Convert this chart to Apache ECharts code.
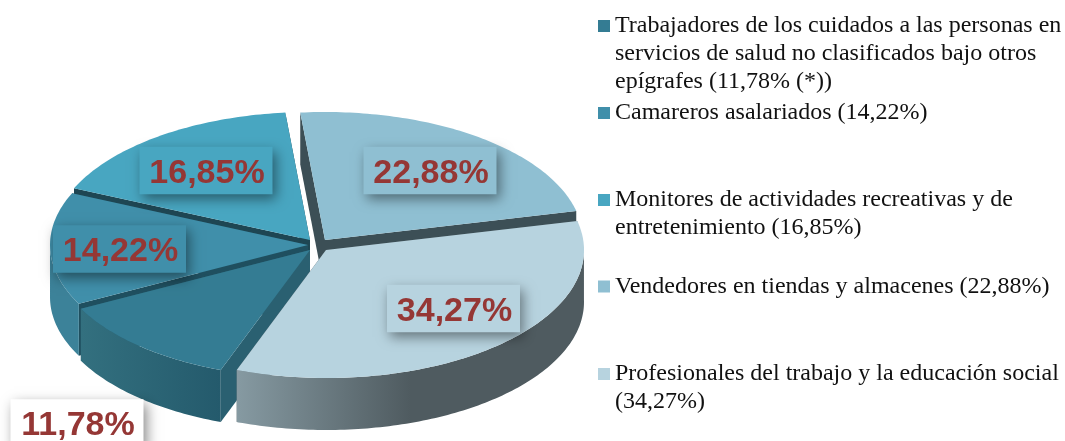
<!DOCTYPE html>
<html>
<head>
<meta charset="utf-8">
<style>html,body{margin:0;padding:0;background:#fff}#c{width:1065px;height:441px}</style>
<script src="https://cdn.jsdelivr.net/npm/echarts@6/dist/echarts.min.js"></script>
</head>
<body>
<div id="c"></div>
<script>
// Data, in clockwise order starting at the top of the pie
const categories = [
  'Vendedores en tiendas y almacenes',
  'Profesionales del trabajo y la educación social',
  'Trabajadores de los cuidados a las personas en servicios de salud no clasificados bajo otros epígrafes',
  'Camareros asalariados',
  'Monitores de actividades recreativas y de entretenimiento'
];
const shares = [22.88, 34.27, 11.78, 14.22, 16.85];
const legendBreaks = [
  ['Vendedores en tiendas y almacenes (22,88%)'],
  ['Profesionales del trabajo y la educación social', '(34,27%)'],
  ['Trabajadores de los cuidados a las personas en', 'servicios de salud no clasificados bajo otros', 'epígrafes (11,78% (*))'],
  ['Camareros asalariados (14,22%)'],
  ['Monitores de actividades recreativas y de', 'entretenimiento (16,85%)']
];

// Styling and layout
const topColors = ['#8FBFD2', '#B7D3DF', '#347C93', '#408FAA', '#48A6C1'];
const cutColors = ['#3C4F56', '#4F5B60', '#2A6071', '#1F4F5F', '#1E4653'];
const wallFrom = ['#4F5B60', '#869AA2', '#33707F', '#3C8299', '#3C8299'];
const wallTo = ['#4F5B60', '#4F5B60', '#245A6C', '#3C8299', '#3C8299'];
const apexX = [325, 326, 310, 308, 310];
const apexY = [240, 250, 250, 245, 240];
const labelCenterX = [430, 453.5, 77, 119.5, 206];
const labelCenterY = [170.5, 308.5, 423, 249, 170.5];
const labelFill = ['#8FBFD2', '#B7D3DF', '#FFFFFF', '#408FAA', '#48A6C1'];
const legendCenterY = [284.5, 372, 24, 111, 198];
const drawOrder = [0, 4, 3, 2, 1];
const startDeg = -5.5, RX = 258, RY = 128, DEPTH = 52;
const LINE = 28;

const total = shares.reduce((a, b) => a + b, 0);
function sliceAngles(i) {
  let before = 0;
  for (let k = 0; k < i; k++) before += shares[k];
  return [startDeg + before / total * 360, startDeg + (before + shares[i]) / total * 360];
}
function rimPoint(i, deg, dy) {
  const r = deg * Math.PI / 180;
  return [apexX[i] + RX * Math.sin(r), apexY[i] - RY * Math.cos(r) + (dy || 0)];
}
function renderSlice(i) {
  const [a0, a1] = sliceAngles(i);
  const arc = [];
  for (let d = a0; d < a1; d += 1) arc.push(d);
  arc.push(a1);
  const top = [[apexX[i], apexY[i]]].concat(arc.map(d => rimPoint(i, d)));
  const cut = deg => [[apexX[i], apexY[i]], rimPoint(i, deg), rimPoint(i, deg, DEPTH), [apexX[i], apexY[i] + DEPTH]];
  const front = arc.filter(d => Math.cos(d * Math.PI / 180) < 0.02);
  const children = [
    { type: 'polygon', shape: { points: cut(a0) }, style: { fill: cutColors[i] }, silent: true },
    { type: 'polygon', shape: { points: cut(a1) }, style: { fill: cutColors[i] }, silent: true }
  ];
  if (front.length > 1) {
    const wall = front.map(d => rimPoint(i, d)).concat(front.slice().reverse().map(d => rimPoint(i, d, DEPTH)));
    children.push({
      type: 'polygon', shape: { points: wall }, silent: true,
      style: {
        fill: new echarts.graphic.LinearGradient(0, 0, 1, 0, [
          { offset: 0, color: wallFrom[i] },
          { offset: i === 1 ? 0.5 : 1, color: wallTo[i] },
          { offset: 1, color: wallTo[i] }
        ])
      }
    });
  }
  children.push({ type: 'polygon', shape: { points: top }, style: { fill: topColors[i] } });
  return { type: 'group', children };
}
function renderLabel(params, api) {
  const i = params.dataIndex;
  const text = api.value(0).toFixed(2).replace('.', ',') + '%';
  const W = 133, H = 47.5;
  return {
    type: 'group',
    children: [
      { type: 'rect', shape: { x: labelCenterX[i] - W / 2, y: labelCenterY[i] - H / 2, width: W, height: H },
        style: { fill: labelFill[i], shadowBlur: 12, shadowOffsetX: 3, shadowOffsetY: 5, shadowColor: 'rgba(0,0,0,0.45)' } },
      { type: 'text', style: { x: labelCenterX[i] + 1, y: labelCenterY[i] + 3, text,
        fill: '#953735', font: 'bold 34px "Liberation Sans", Arial, sans-serif', align: 'center', verticalAlign: 'middle' } }
    ]
  };
}

const series = drawOrder.map((i, n) => ({
  type: 'custom',
  name: categories[i],
  coordinateSystem: 'none',
  silent: true,
  animation: false,
  z: 2 + n,
  itemStyle: { color: topColors[i] },
  data: [[shares[i]]],
  renderItem: () => renderSlice(i)
}));
series.push({
  type: 'custom',
  name: 'Etiquetas',
  coordinateSystem: 'none',
  silent: true,
  animation: false,
  z: 20,
  data: shares.map(v => [v]),
  renderItem: renderLabel
});

const legend = categories.map((name, i) => {
  const lines = legendBreaks[i];
  const n = lines.length;
  const pad = new Array(n - 1).fill('');
  const boxH = (2 * n - 1) * LINE;
  return {
    show: true,
    data: [{ name, itemStyle: { color: topColors[i] } }],
    selectedMode: false,
    left: 598,
    top: legendCenterY[i] - boxH / 2,
    padding: 0,
    itemWidth: 12,
    itemHeight: 12,
    icon: 'rect',
    formatter: () => pad.concat(lines).join('\n'),
    textStyle: { fontFamily: '"Liberation Serif", "Times New Roman", serif', fontSize: 24, color: '#111', lineHeight: LINE, padding: [4, 0, 0, 0] }
  };
});

const chart = echarts.init(document.getElementById('c'), null, { renderer: 'canvas' });
chart.setOption({ animation: false, backgroundColor: '#fff', tooltip: { show: false }, legend, series });
</script>
</body>
</html>
